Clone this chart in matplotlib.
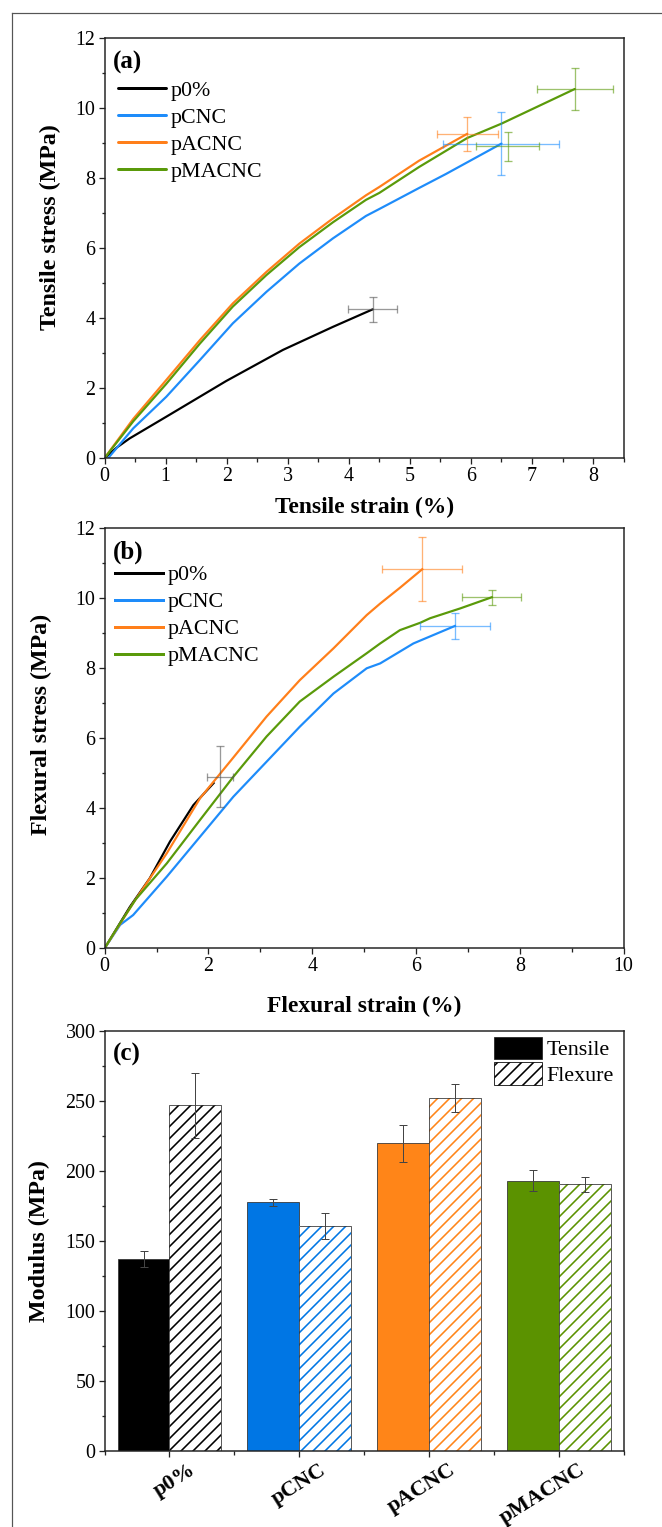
import matplotlib
matplotlib.use("Agg")
import matplotlib.pyplot as plt
from matplotlib.lines import Line2D
from matplotlib.patches import Patch
from matplotlib.ticker import MultipleLocator
from matplotlib.transforms import ScaledTranslation

plt.rcParams['font.family'] = ['Liberation Serif', 'DejaVu Serif']
plt.rcParams['hatch.linewidth'] = 1.6

# ---- (a) tensile curves ----
t_strain_p0 = [0, 0.2, 0.41, 1.01, 1.99, 2.92, 3.74, 4.39]
t_stress_p0 = [0, 0.3, 0.56, 1.18, 2.2, 3.09, 3.75, 4.25]
t_strain_cnc = [0.06, 0.47, 1.01, 1.56, 2.10, 2.65, 3.19, 3.74, 4.28, 4.5, 5.15, 5.59, 6.5]
t_stress_cnc = [0, 0.85, 1.75, 2.8, 3.85, 4.75, 5.56, 6.28, 6.92, 7.12, 7.72, 8.12, 8.99]
t_strain_acnc = [0, 0.47, 1.01, 1.56, 2.10, 2.65, 3.19, 3.74, 4.28, 4.5, 5.15, 5.94]
t_stress_acnc = [0, 1.12, 2.23, 3.37, 4.42, 5.32, 6.13, 6.85, 7.51, 7.75, 8.5, 9.27]
t_strain_macnc = [0, 0.47, 1.01, 1.56, 2.10, 2.65, 3.19, 3.74, 4.28, 4.5, 5.15, 5.94, 6.5, 7.7]
t_stress_macnc = [0, 1.05, 2.12, 3.27, 4.33, 5.23, 6.03, 6.74, 7.38, 7.58, 8.32, 9.15, 9.56, 10.55]
# end points with error (x, y, xerr, yerr)
t_err_x = [4.39, 6.5, 5.94, 7.7, 6.6]
t_err_y = [4.25, 8.99, 9.27, 10.55, 8.91]
t_err_dx = [0.4, 0.95, 0.5, 0.62, 0.52]
t_err_dy = [0.36, 0.89, 0.49, 0.61, 0.42]
t_err_col = ['#555555', '#1E90FF', '#FF7F1A', '#5A9A0A', '#5A9A0A']

# ---- (b) flexural curves ----
f_strain_p0 = [0, 0.49, 0.87, 1.26, 1.71, 2.1]
f_stress_p0 = [0, 1.19, 2.0, 3.05, 4.09, 4.72]
f_strain_cnc = [0, 0.3, 0.55, 1.20, 1.84, 2.48, 3.12, 3.76, 4.41, 5.05, 5.31, 5.95, 6.75]
f_stress_cnc = [0, 0.67, 0.95, 2.05, 3.19, 4.33, 5.33, 6.33, 7.28, 8.0, 8.14, 8.71, 9.21]
f_strain_acnc = [0, 0.55, 1.20, 1.84, 2.48, 3.12, 3.76, 4.41, 5.05, 5.31, 5.69, 6.12]
f_stress_acnc = [0, 1.29, 2.72, 4.29, 5.45, 6.62, 7.66, 8.57, 9.52, 9.85, 10.3, 10.83]
f_strain_macnc = [0, 0.3, 0.6, 1.20, 1.84, 2.48, 3.12, 3.76, 4.41, 5.05, 5.31, 5.69, 6.08, 6.27, 6.85, 7.46]
f_stress_macnc = [0, 0.72, 1.4, 2.43, 3.67, 4.9, 6.05, 7.05, 7.76, 8.43, 8.71, 9.09, 9.3, 9.43, 9.71, 10.03]
f_err_x = [2.22, 6.75, 6.12, 7.46]
f_err_y = [4.9, 9.21, 10.83, 10.03]
f_err_dx = [0.25, 0.67, 0.77, 0.57]
f_err_dy = [0.87, 0.36, 0.92, 0.22]
f_err_col = ['#555555', '#1E90FF', '#FF7F1A', '#5A9A0A']

# ---- (c) modulus ----
groups = ['p0%', 'pCNC', 'pACNC', 'pMACNC']
tensile_mod = [137, 177.5, 219.6, 193]
tensile_err = [6, 2.5, 13, 7.5]
flex_mod = [246.7, 160.6, 252.2, 190.4]
flex_err = [23.4, 9, 10, 5.5]

line_cols = ['#000000', '#1E8CFA', '#FF7F1A', '#5A9A0A']
bar_cols = ['#000000', '#0076E4', '#FF8518', '#5B9200']

W, H = 662, 1527
fig = plt.figure(figsize=(W / 72, H / 72), dpi=72)


def frac(left, top, right, bottom):
    return [left / W, 1 - bottom / H, (right - left) / W, (bottom - top) / H]


def style(ax):
    for s in ax.spines.values():
        s.set_linewidth(1.5)
        s.set_color('#222222')
    ax.tick_params(which='both', direction='out', width=1.3, labelsize=20, color='#222222')
    ax.tick_params(which='major', length=6, pad=3)
    ax.tick_params(which='minor', length=3.5)
    ax.tick_params(top=False, right=False)


def curve_legend(ax, y0, x0):
    leg = ax.legend(loc='upper left', bbox_to_anchor=(x0, y0), frameon=False, fontsize=22,
                    handlelength=2.2, handletextpad=0.2, labelspacing=0.3, borderaxespad=0,
                    borderpad=0)
    for h in leg.get_lines():
        h.set_linewidth(3)


ax1 = fig.add_axes(frac(104.6, 38.3, 623.6, 458))
ax2 = fig.add_axes(frac(104.6, 528.3, 623.6, 948.3))
ax3 = fig.add_axes(frac(104.6, 1030.7, 623.6, 1451))

# (a)
names = ['p0%', 'pCNC', 'pACNC', 'pMACNC']
for xs, ys, c, n in zip([t_strain_p0, t_strain_cnc, t_strain_acnc, t_strain_macnc],
                        [t_stress_p0, t_stress_cnc, t_stress_acnc, t_stress_macnc],
                        line_cols, names):
    ax1.plot(xs, ys, color=c, lw=2.2, label=n, solid_capstyle='round')
for x, y, dx, dy, c in zip(t_err_x, t_err_y, t_err_dx, t_err_dy, t_err_col):
    ax1.errorbar(x, y, xerr=dx, yerr=dy, fmt='none', ecolor=c, alpha=0.6, elinewidth=1.3,
                 capsize=4, capthick=1.3)
ax1.set_xlim(0, 8.5)
ax1.set_ylim(0, 12)
ax1.xaxis.set_major_locator(MultipleLocator(1))
ax1.xaxis.set_minor_locator(MultipleLocator(0.5))
ax1.yaxis.set_major_locator(MultipleLocator(2))
ax1.yaxis.set_minor_locator(MultipleLocator(1))
ax1.set_xlabel('Tensile strain (%)', fontsize=23.5, fontweight='bold')
ax1.set_ylabel('Tensile stress (MPa)', fontsize=24, fontweight='bold')
ax1.xaxis.set_label_coords(0.5, -0.119)
ax1.xaxis.label.set_verticalalignment('center')
ax1.yaxis.set_label_coords(-0.105, 0.55)
ax1.yaxis.label.set_verticalalignment('center')
ax1.text(0.016, 0.943, '(a)', transform=ax1.transAxes, fontsize=25, fontweight='bold',
         va='center', ha='left')
curve_legend(ax1, 0.9, 0.026)
style(ax1)

# (b)
for xs, ys, c, n in zip([f_strain_p0, f_strain_cnc, f_strain_acnc, f_strain_macnc],
                        [f_stress_p0, f_stress_cnc, f_stress_acnc, f_stress_macnc],
                        line_cols, names):
    ax2.plot(xs, ys, color=c, lw=2.2, label=n)
for x, y, dx, dy, c in zip(f_err_x, f_err_y, f_err_dx, f_err_dy, f_err_col):
    ax2.errorbar(x, y, xerr=dx, yerr=dy, fmt='none', ecolor=c, alpha=0.6, elinewidth=1.3,
                 capsize=4, capthick=1.3)
ax2.set_xlim(0, 10)
ax2.set_ylim(0, 12)
ax2.xaxis.set_major_locator(MultipleLocator(2))
ax2.xaxis.set_minor_locator(MultipleLocator(1))
ax2.yaxis.set_major_locator(MultipleLocator(2))
ax2.yaxis.set_minor_locator(MultipleLocator(1))
ax2.set_xlabel('Flexural strain (%)', fontsize=23.5, fontweight='bold')
ax2.set_ylabel('Flexural stress (MPa)', fontsize=24, fontweight='bold')
ax2.xaxis.set_label_coords(0.5, -0.139)
ax2.xaxis.label.set_verticalalignment('center')
ax2.yaxis.set_label_coords(-0.121, 0.534)
ax2.yaxis.label.set_verticalalignment('center')
ax2.text(0.016, 0.943, '(b)', transform=ax2.transAxes, fontsize=25, fontweight='bold',
         va='center', ha='left')
curve_legend(ax2, 0.913, 0.02)
style(ax2)

# (c)
pos = [1, 2, 3, 4]
bw = 0.4
for i, p in enumerate(pos):
    ax3.bar(p - bw / 2, tensile_mod[i], width=bw, color=bar_cols[i], edgecolor='#333333', lw=0.8)
    ax3.bar(p + bw / 2, flex_mod[i], width=bw, color='white', edgecolor=bar_cols[i], lw=0,
            hatch='//')
    ax3.bar(p + bw / 2, flex_mod[i], width=bw, color='none', edgecolor='#333333', lw=0.8)
ax3.errorbar([p - bw / 2 for p in pos], tensile_mod, yerr=tensile_err, fmt='none',
             ecolor='#444444', elinewidth=1, capsize=4, capthick=1)
ax3.errorbar([p + bw / 2 for p in pos], flex_mod, yerr=flex_err, fmt='none',
             ecolor='#444444', elinewidth=1, capsize=4, capthick=1)
ax3.set_xlim(0.5, 4.5)
ax3.set_ylim(0, 300)
ax3.xaxis.set_minor_locator(MultipleLocator(0.5))
ax3.yaxis.set_major_locator(MultipleLocator(50))
ax3.yaxis.set_minor_locator(MultipleLocator(25))
ax3.set_ylabel('Modulus (MPa)', fontsize=24, fontweight='bold')
ax3.yaxis.set_label_coords(-0.126, 0.5)
ax3.yaxis.label.set_verticalalignment('center')
ax3.text(0.016, 0.943, '(c)', transform=ax3.transAxes, fontsize=25, fontweight='bold',
         va='center', ha='left')
handles = [Patch(facecolor='black', edgecolor='#222222', lw=0.8),
           Patch(facecolor='white', edgecolor='black', lw=0.8, hatch='//')]
ax3.legend(handles, ['Tensile', 'Flexure'], loc='upper right', bbox_to_anchor=(0.981, 0.986),
           frameon=False, fontsize=22, handlelength=2.2, handleheight=1.2,
           handletextpad=0.2, labelspacing=0.08, borderaxespad=0, borderpad=0)
style(ax3)
# rotated group labels, shifted right after the tick styling
ax3.set_xticks(pos)
ax3.set_xticklabels(groups, rotation=32, ha='right', fontweight='bold', fontsize=22)
shift = ScaledTranslation(30 / 72, 0, fig.dpi_scale_trans)
for lab in ax3.get_xticklabels():
    lab.set_transform(lab.get_transform() + shift)

# outer frame of the figure
fig.add_artist(Line2D([12 / W, 1], [1 - 12.7 / H, 1 - 12.7 / H], color='#555555', lw=1.2))
fig.add_artist(Line2D([12 / W, 12 / W], [0, 1 - 12.7 / H], color='#555555', lw=1.2))

fig.savefig('out.png', dpi=72)
